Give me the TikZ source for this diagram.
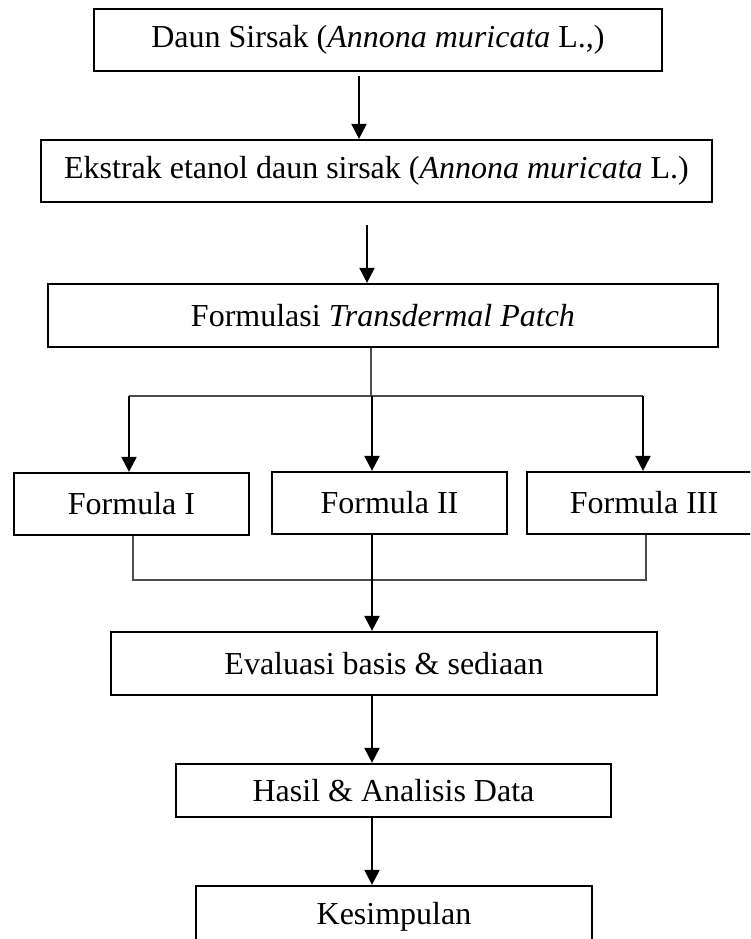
\documentclass[tikz,border=0pt]{standalone}
\usepackage{fontspec}
\setmainfont{Liberation Serif}
\usetikzlibrary{arrows.meta,calc}
\begin{document}
\begin{tikzpicture}[x=1pt,y=-1pt,
  box/.style={draw=black,line width=2.2pt,inner sep=0pt,
    font=\fontsize{32}{38}\selectfont,minimum height=62pt},
  arr/.style={draw=black,line width=2pt,-{Triangle[length=15pt,width=15pt]}},
  thinline/.style={draw=black!70,line width=1.1pt}]
\useasboundingbox (0,0) rectangle (750,939);
\clip (0,0) rectangle (750,939);

% column positions of the connectors
\coordinate (c1) at (359,0);
\coordinate (c2) at (367,0);
\coordinate (cs) at (371,0);
\coordinate (cm) at (372,0);
\coordinate (cl) at (129,0);
\coordinate (cr) at (643,0);
\coordinate (dl) at (133,0);
\coordinate (dr) at (646,0);

% boxes
\node[box,minimum width=568pt] (b1) at (378,40) {Daun Sirsak (\textit{Annona muricata} L.,)};
\node[box,minimum width=671pt] (b2) at (376.5,171) {Ekstrak etanol daun sirsak (\textit{Annona muricata} L.)};
\node[box,minimum width=670pt,minimum height=63pt] (b3) at (383,315.5) {Formulasi \textit{Transdermal Patch}};
\node[box,minimum width=235pt] (f1) at (131.5,504) {Formula I};
\node[box,minimum width=235pt] (f2) at (389.5,503) {Formula II};
\node[box,minimum width=234pt] (f3) at (644,503) {Formula III};
\node[box,minimum width=546pt,minimum height=63pt] (ev) at (384,663.5) {Evaluasi basis \& sediaan};
\node[box,minimum width=435pt,minimum height=53pt] (ha) at (393.5,790.5) {Hasil \& Analisis Data};
\node[box,minimum width=396pt,minimum height=62pt] (ks) at (394,917) {Kesimpulan};

% connectors
\draw[arr] ([yshift=-4pt]b1.south -| c1) -- (b2.north -| c1);
\draw[arr] ([yshift=-22pt]b2.south -| c2) -- (b3.north -| c2);

\coordinate (sp) at (371,396);
\draw[thinline] (b3.south -| cs) -- (sp);
\draw[thinline] (sp -| cl) -- (sp -| cr);
\draw[arr] (sp -| cl) -- (f1.north -| cl);
\draw[arr] (sp -| cm) -- (f2.north -| cm);
\draw[arr] (sp -| cr) -- (f3.north -| cr);

\coordinate (jn) at (372,580);
\draw[thinline] (f1.south -| dl) -- (jn -| dl) -- (jn -| dr) -- (f3.south -| dr);
\draw[arr] (f2.south -| cm) -- (ev.north -| cm);

\draw[arr] (ev.south -| cm) -- (ha.north -| cm);
\draw[arr] (ha.south -| cm) -- (ks.north -| cm);
\end{tikzpicture}
\end{document}
